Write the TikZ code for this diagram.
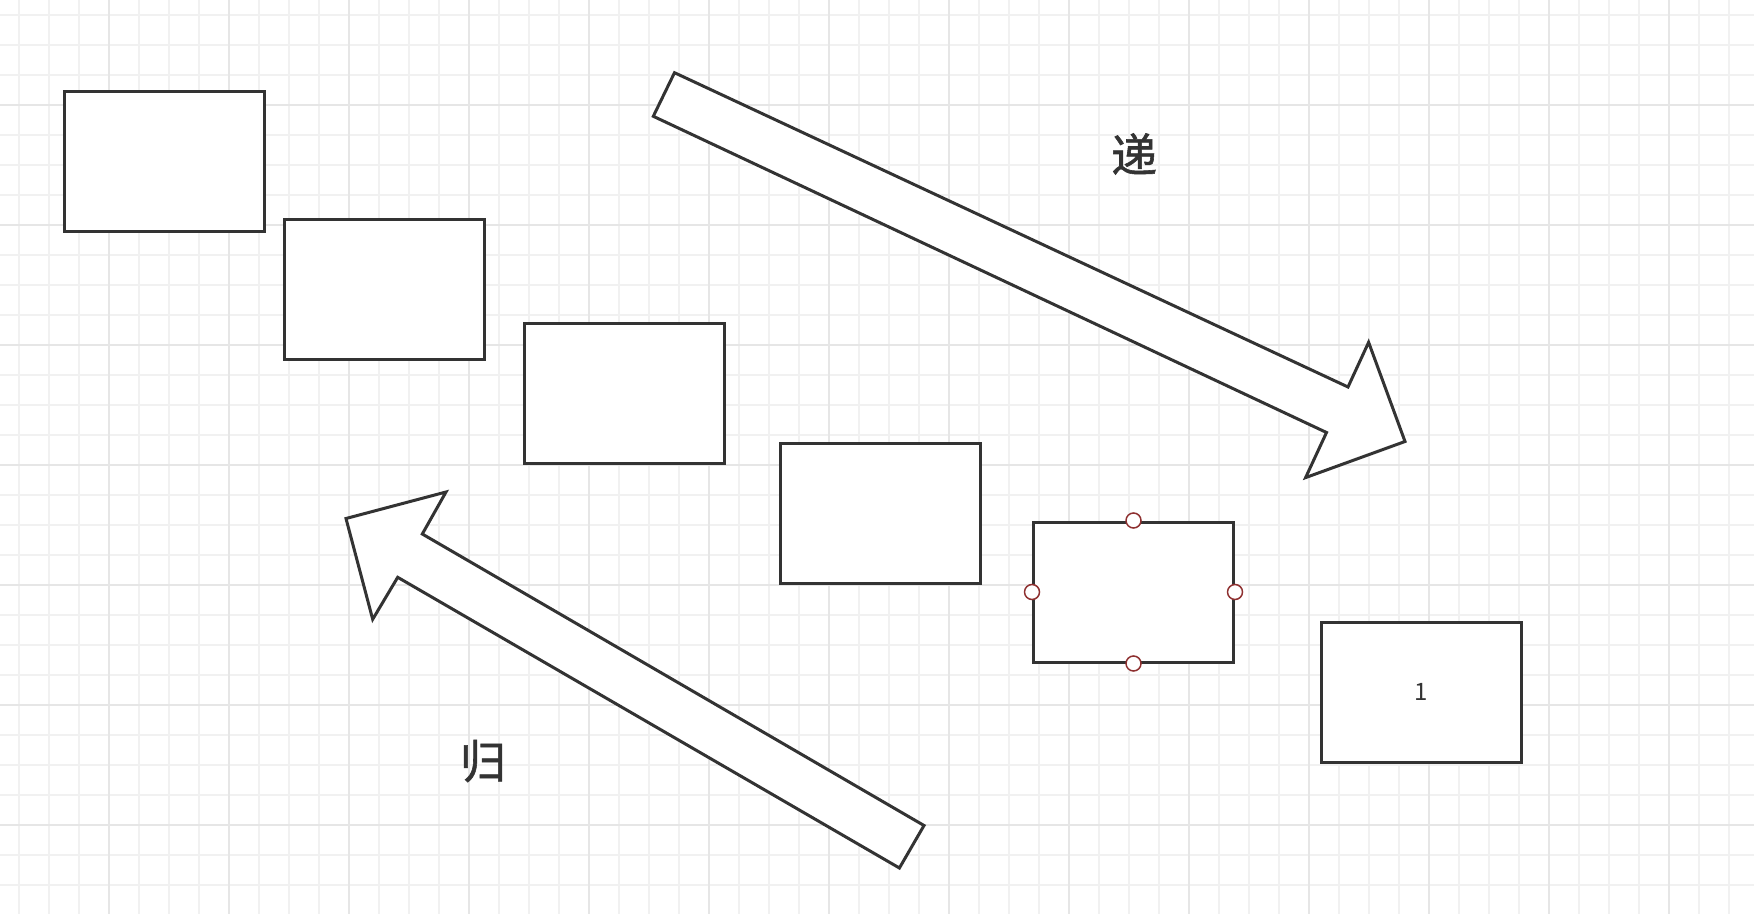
\documentclass[tikz,border=0pt]{standalone}
\usepackage{fontspec}
\newfontfamily\cjk{Noto Sans CJK SC}
\newfontfamily\cjkb[FakeBold=1.2]{Noto Sans CJK SC}
\definecolor{gridminor}{HTML}{F1F1F1}
\definecolor{gridmajor}{HTML}{E6E6E6}
\definecolor{ink}{HTML}{333333}
\definecolor{handle}{HTML}{8E3030}
\begin{document}
\begin{tikzpicture}[x=0.5pt,y=-0.5pt,
  box/.style={draw=ink,fill=white,line width=1.5pt,minimum width=100pt,minimum height=70pt,inner sep=0pt,text=ink,font=\cjk\fontsize{12}{12}\selectfont},
  bigarrow/.style={draw=ink,fill=white,line width=1.5pt,line join=miter},
  handledot/.style={draw=handle,fill=white,line width=0.75pt},
  bigtext/.style={text=ink,font=\cjkb\fontsize{23}{23}\selectfont,inner sep=0pt}]
\useasboundingbox (0,0) rectangle (1754,914);
\fill[white] (0,0) rectangle (1754,914);
% grid
\foreach \i in {0,...,58} { \draw[gridminor,line width=0.75pt] ({19+30*\i},0) -- ({19+30*\i},914); }
\foreach \i in {0,...,30} { \draw[gridminor,line width=0.75pt] (0,{15+30*\i}) -- (1754,{15+30*\i}); }
\foreach \i in {0,...,14} { \draw[gridmajor,line width=1pt] ({109+120*\i},0) -- ({109+120*\i},914); }
\foreach \i in {0,...,6} { \draw[gridmajor,line width=1pt] (0,{105+120*\i}) -- (1754,{105+120*\i}); }
% boxes
\node[box] (r1) at (164,161.5) {};
\node[box] (r2) at (384,289.5) {};
\node[box] (r3) at (624,393.5) {};
\node[box] (r4) at (880,513.5) {};
\node[box] (r5) at (1133.5,592) {};
\node[box] (r6) at (1421.5,692) {1};
% handles on r5
\foreach \a in {north,south,east,west} { \draw[handledot] (r5.\a) circle[radius=7.5]; }
% arrows
\draw[bigarrow] (674.5,72.7) -- (653.3,116.3) -- (1326.5,432.5) -- (1305.6,477.6) -- (1405,441.5) -- (1368.6,342.3) -- (1348,387) -- cycle;
\draw[bigarrow] (346,518.5) -- (446,492) -- (422.3,534) -- (924,825.5) -- (899.4,868) -- (397.7,577.3) -- (372.7,619.3) -- cycle;
% labels
\node[bigtext] (t1) at (1134,154) {递};
\node[bigtext] (t2) at (483,761) {归};
\end{tikzpicture}
\end{document}
